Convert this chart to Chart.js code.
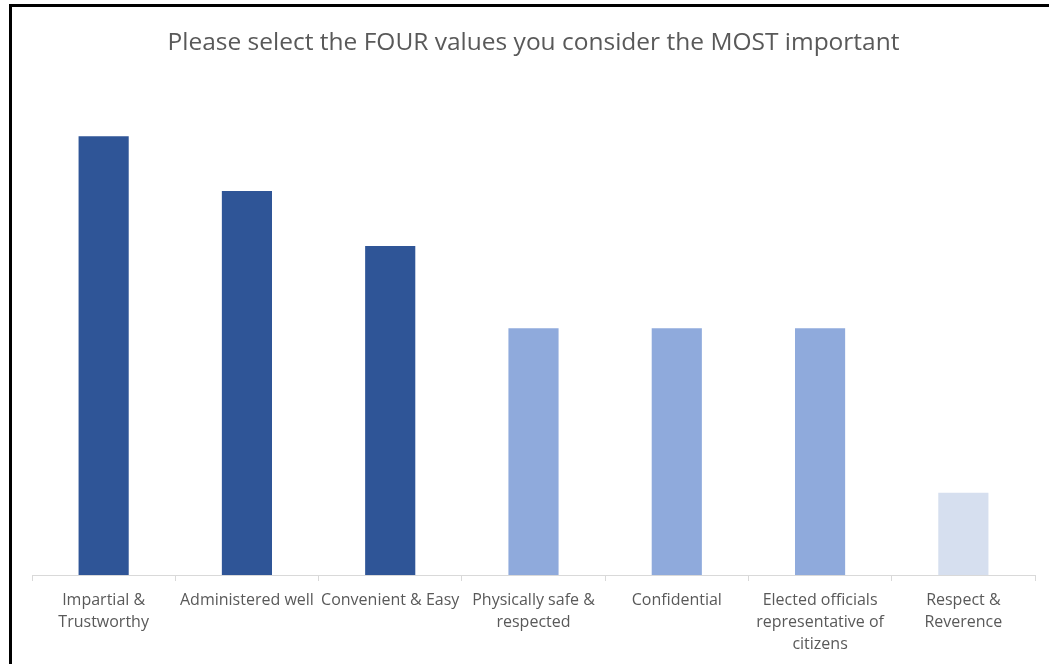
<!DOCTYPE html>
<html>
<head>
<meta charset="utf-8">
<script src="https://cdn.jsdelivr.net/npm/chart.js@4/dist/chart.umd.min.js"></script>
<style>
  html, body { margin: 0; padding: 0; background: #fff; }
  #wrap { position: relative; width: 1049px; height: 664px; overflow: hidden; }
  #frame { position: absolute; left: 9px; top: 4px; width: 1100px; height: 700px;
           border-left: 3px solid #000; border-top: 3px solid #000; pointer-events: none; }
  canvas { position: absolute; left: 0; top: 0; }
</style>
</head>
<body>
<div id="wrap">
  <canvas id="chart" width="1049" height="664"></canvas>
  <div id="frame"></div>
</div>
<script>
const categories = [
  ['Impartial &', 'Trustworthy'],
  'Administered well',
  'Convenient & Easy',
  ['Physically safe &', 'respected'],
  'Confidential',
  ['Elected officials', 'representative of', 'citizens'],
  ['Respect &', 'Reverence']
];
const counts = [16, 14, 12, 9, 9, 9, 3];
const barColors = ['#2F5597', '#2F5597', '#2F5597', '#8FAADC', '#8FAADC', '#8FAADC', '#D6DFEF'];

document.addEventListener('DOMContentLoaded', function() {
    const ctx = document.getElementById('chart').getContext('2d');
    new Chart(ctx, {
        type: 'bar',
        data: {
            labels: categories,
            datasets: [{
                data: counts,
                backgroundColor: barColors,
                categoryPercentage: 1.0,
                barPercentage: 0.35
            }]
        },
        options: {
            responsive: false,
            animation: false,
            layout: { padding: { left: 32, right: 14, top: 0, bottom: 1 } },
            plugins: {
                legend: { display: false },
                tooltip: { enabled: false },
                title: {
                    display: true,
                    text: 'Please select the FOUR values you consider the MOST important',
                    color: '#595959',
                    font: { family: 'Open Sans', size: 24.5, weight: 'normal' },
                    padding: { top: 28, bottom: 24 }
                }
            },
            scales: {
                x: {
                    grid: {
                        drawOnChartArea: false,
                        drawTicks: true,
                        tickLength: 6,
                        color: '#d9d9d9',
                        offset: true
                    },
                    border: { color: '#d9d9d9', width: 1 },
                    ticks: {
                        color: '#595959',
                        font: { family: 'Open Sans', size: 16, lineHeight: 1.375 },
                        padding: 8,
                        maxRotation: 0,
                        autoSkip: false
                    }
                },
                y: {
                    display: false,
                    min: 0,
                    max: 18
                }
            }
        }
    });
});
</script>
</body>
</html>
